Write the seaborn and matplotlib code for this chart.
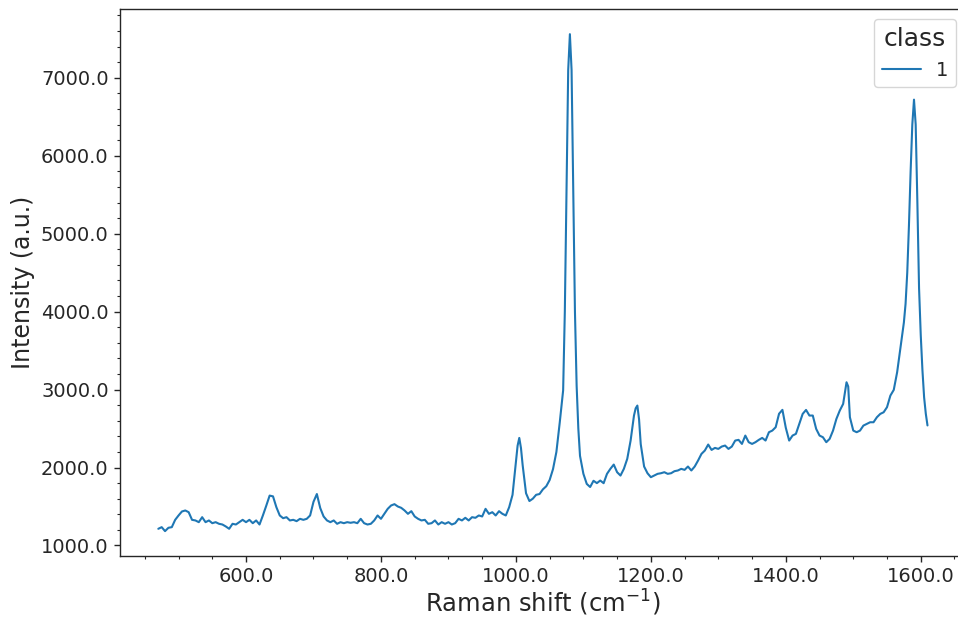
import numpy as np
import pandas as pd
import matplotlib
matplotlib.use("Agg")
import matplotlib.pyplot as plt
import seaborn as sns
from matplotlib.ticker import FormatStrFormatter, AutoMinorLocator

# ---------------- data ----------------
# regular sampling grid 470 ... 1610 cm^-1, step 5
grid_shift = np.arange(470, 1611, 5)
grid_intensity = [
    1214, 1235, 1184, 1227, 1235, 1329, 1385, 1436, 1449, 1427,   # 470-515
    1329, 1321, 1299, 1363, 1299, 1321, 1286, 1299, 1278, 1269,   # 520-565
    1244, 1214, 1278, 1269, 1299, 1329, 1299, 1329, 1286, 1321,   # 570-615
    1269, 1385, 1510, 1640, 1630, 1491, 1385, 1350, 1363, 1321,   # 620-665
    1329, 1312, 1342, 1329, 1342, 1385, 1560, 1660, 1480, 1372,   # 670-715
    1321, 1299, 1321, 1278, 1299, 1286, 1299, 1291, 1299, 1286,   # 720-765
    1342, 1286, 1269, 1278, 1321, 1385, 1342, 1406, 1470, 1513,   # 770-815
    1530, 1500, 1483, 1449, 1406, 1440, 1372, 1342, 1321, 1329,   # 820-865
    1278, 1286, 1321, 1269, 1299, 1278, 1299, 1269, 1286, 1342,   # 870-915
    1321, 1355, 1321, 1363, 1355, 1385, 1372, 1470, 1406, 1427,   # 920-965
    1385, 1440, 1406, 1385, 1491, 1650, 2070, 2380, 2030, 1670,   # 970-1015
    1570, 1600, 1650, 1660, 1720, 1760, 1840, 1980, 2200, 2580,   # 1020-1065
    2990, 5600, 7560, 5500, 3050, 2150, 1920, 1790, 1750, 1830,   # 1070-1115
    1800, 1833, 1799, 1919, 1983, 2038, 1940, 1897, 1983, 2111,   # 1120-1165
    2346, 2667, 2795, 2300, 2013, 1927, 1876, 1897, 1919, 1927,   # 1170-1215
    1940, 1919, 1927, 1953, 1962, 1983, 1970, 2013, 1962, 2013,   # 1220-1265
    2090, 2175, 2218, 2295, 2226, 2252, 2239, 2269, 2282, 2239,   # 1270-1315
    2269, 2346, 2355, 2303, 2410, 2325, 2303, 2325, 2355, 2380,   # 1320-1365
    2346, 2453, 2474, 2517, 2690, 2740, 2510, 2346, 2410, 2432,   # 1370-1415
    2560, 2688, 2739, 2667, 2667, 2496, 2410, 2389, 2325, 2368,   # 1420-1465
    2474, 2624, 2731, 2816, 3094, 2645, 2474, 2453, 2474, 2538,   # 1470-1515
    2560, 2581, 2581, 2645, 2688, 2709, 2774, 2923, 2996, 3222,   # 1520-1565
    3543, 3860, 4500, 5800, 6720, 5400, 3700, 2900, 2540,         # 1570-1610
]
# extra samples on the sharp peaks and noisy spots
peak_shift = [1002.5, 1007.5, 1072.5, 1077.5, 1082.5, 1087.5, 1092.5,
              1177.5, 1182.5, 1492.5,
              1577.5, 1582.5, 1587.5, 1592.5, 1597.5, 1602.5, 1607.5]
peak_intensity = [2280, 2250, 4000, 7100, 7100, 4000, 2500,
                  2760, 2620, 3040,
                  4100, 5100, 6400, 6400, 4300, 3250, 2690]

class_labels = ["1"]

x_label = "Raman shift (cm$^{-1}$)"
y_label = "Intensity (a.u.)"

# ---------------- build table ----------------
assert len(grid_shift) == len(grid_intensity)
df = pd.DataFrame({
    "shift": np.concatenate([grid_shift, peak_shift]).astype(float),
    "intensity": np.concatenate([grid_intensity, peak_intensity]).astype(float),
})
df["class"] = class_labels[0]
df = df.sort_values("shift").reset_index(drop=True)

# ---------------- plot ----------------
sns.set_style("ticks")
plt.rcParams["font.family"] = ["DejaVu Sans"]

fig = plt.figure(figsize=(9.58, 6.17), dpi=100)
ax = fig.add_axes([0.1251, 0.0989, 0.8832, 0.886])

sns.lineplot(data=df, x="shift", y="intensity", hue="class",
             palette=["#1f77b4"], linewidth=1.5, ax=ax, sort=False)

ax.set_xlabel(x_label, fontsize=17.5, labelpad=1)
ax.set_ylabel(y_label, fontsize=17)

ax.xaxis.set_major_formatter(FormatStrFormatter("%.1f"))
ax.yaxis.set_major_formatter(FormatStrFormatter("%.1f"))
ax.xaxis.set_minor_locator(AutoMinorLocator())
ax.yaxis.set_minor_locator(AutoMinorLocator())
ax.tick_params(which="major", labelsize=14, length=4.5, width=1)
ax.tick_params(which="minor", length=2.5, width=0.8)

for s in ax.spines.values():
    s.set_color("#262626")
    s.set_linewidth(1)

sns.move_legend(ax, "upper right", fontsize=14, title_fontsize=18, title="class")

fig.savefig("out.png", dpi=100)
